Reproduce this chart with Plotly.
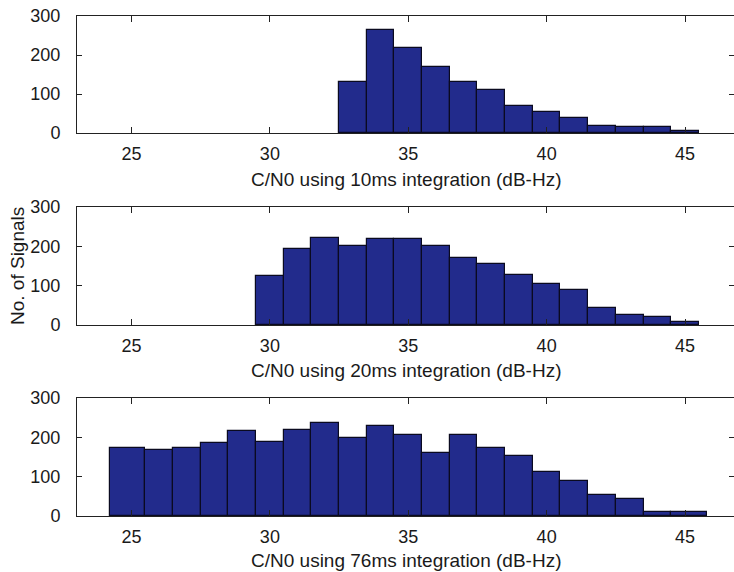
import plotly.graph_objects as go

# ---- data ----
edges_10ms = [32.5, 33.5, 34.5, 35.5, 36.5, 37.5, 38.5, 39.5, 40.5, 41.5, 42.5, 43.5, 44.5, 45.5]
counts_10ms = [132, 264, 219, 168, 132, 109, 70, 54, 38, 19, 15, 15, 4]

edges_20ms = [29.5, 30.5, 31.5, 32.5, 33.5, 34.5, 35.5, 36.5, 37.5, 38.5, 39.5, 40.5,
              41.5, 42.5, 43.5, 44.5, 45.5]
counts_20ms = [125, 193, 220, 201, 218, 218, 202, 170, 156, 128, 105, 90, 44, 25, 21, 7]

edges_76ms = [24.24, 25.5, 26.5, 27.5, 28.5, 29.5, 30.5, 31.5, 32.5, 33.5, 34.5, 35.5,
              36.5, 37.5, 38.5, 39.5, 40.5, 41.5, 42.5, 43.5, 44.5, 45.8]
counts_76ms = [174, 168, 174, 185, 217, 187, 219, 237, 198, 229, 206, 161, 206, 174,
               152, 113, 90, 54, 42, 9, 9]

x_ticks = [25, 30, 35, 40, 45]
y_ticks = [0, 100, 200, 300]
titles = ["C/N0 using 10ms integration (dB-Hz)",
          "C/N0 using 20ms integration (dB-Hz)",
          "C/N0 using 76ms integration (dB-Hz)"]
y_title = "No. of Signals"

panels = [(edges_10ms, counts_10ms), (edges_20ms, counts_20ms), (edges_76ms, counts_76ms)]

W, H = 734, 572
ML, MR, MT, MB = 77, 0, 16, 56
plot_h = H - MT - MB
# pixel tops/bottoms of the three panels
tops = [16, 207, 398]
bots = [133, 325, 516]
title_y = [180, 370, 560]

def py(pix):
    return (H - MB - pix) / plot_h

FONT = "Liberation Sans, Arial, Helvetica, sans-serif"
BAR = "#222b8c"

fig = go.Figure()
layout = dict(
    width=W, height=H,
    margin=dict(l=ML, r=MR, t=MT, b=MB, pad=0),
    paper_bgcolor="white", plot_bgcolor="white",
    showlegend=False, bargap=0,
    font=dict(family=FONT, size=18, color="#1a1a1a"),
)
annotations = []
for i, (edges, counts) in enumerate(panels):
    centers = [(edges[k] + edges[k + 1]) / 2 for k in range(len(counts))]
    widths = [edges[k + 1] - edges[k] for k in range(len(counts))]
    xa = "x" if i == 0 else f"x{i+1}"
    ya = "y" if i == 0 else f"y{i+1}"
    fig.add_trace(go.Bar(x=centers, y=counts, width=widths, xaxis=xa, yaxis=ya,
                         marker=dict(color=BAR, line=dict(color="#0a0a20", width=1.2)),
                         hoverinfo="skip"))
    xk = "xaxis" if i == 0 else f"xaxis{i+1}"
    yk = "yaxis" if i == 0 else f"yaxis{i+1}"
    layout[xk] = dict(domain=[0, 1], anchor=ya, range=[23.03, 46.77],
                      tickvals=x_ticks, ticks="inside", ticklen=6, tickwidth=1,
                      tickcolor="#222", showline=True, linecolor="#222", linewidth=1,
                      mirror="ticks", showgrid=False, zeroline=False,
                      ticklabelstandoff=4, tickfont=dict(size=18))
    layout[yk] = dict(domain=[py(bots[i]), py(tops[i])], anchor=xa, range=[0, 300],
                      tickvals=y_ticks, ticks="inside", ticklen=5, tickwidth=1,
                      tickcolor="#222", showline=True, linecolor="#222", linewidth=1,
                      mirror="ticks", showgrid=False, zeroline=False,
                      ticklabelstandoff=12, tickfont=dict(size=18))
    annotations.append(dict(text=titles[i], xref="paper", yref="paper", x=0.5,
                            y=py(title_y[i]), xanchor="center", yanchor="middle",
                            showarrow=False, font=dict(size=19, family=FONT, color="#1a1a1a")))

annotations.append(dict(text=y_title, xref="paper", yref="paper",
                        x=(17 - ML) / (W - ML - MR), y=py((tops[1] + bots[1]) / 2),
                        xanchor="center", yanchor="middle", textangle=-90,
                        showarrow=False, font=dict(size=19, family=FONT, color="#1a1a1a")))
layout["annotations"] = annotations
fig.update_layout(**layout)
fig.write_html("out.html")
